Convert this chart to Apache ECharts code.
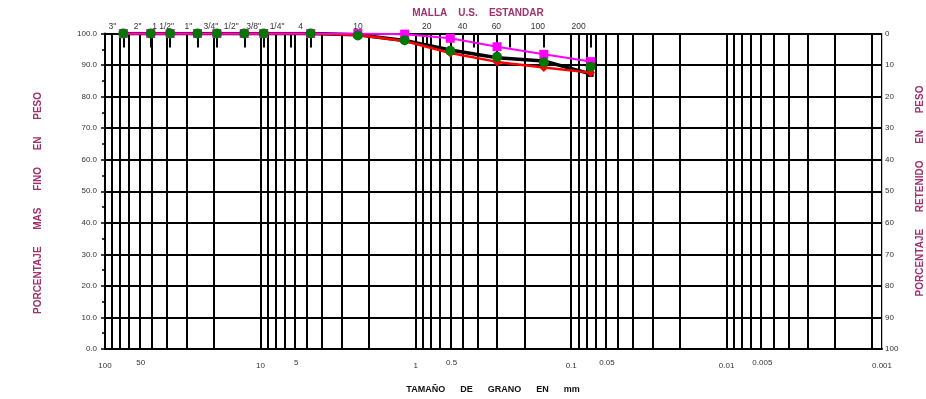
<!DOCTYPE html>
<html><head><meta charset="utf-8">
<script src="https://cdn.jsdelivr.net/npm/echarts@6/dist/echarts.min.js"></script>
<style>html,body{margin:0;padding:0;background:#fff}#c{width:926px;height:399px}</style>
</head><body><div id="c"></div>
<script>
// Sieve openings (mm) of the plotted points
const sieveSizes = [76.2, 50.8, 38.1, 25.4, 19.05, 12.7, 9.525, 4.75, 2.36, 1.18, 0.6, 0.3, 0.15, 0.075];
// Percent passing for each curve
const magentaPct = [100, 100, 100, 100, 100, 100, 100, 100, 100, 99.8, 98.5, 95.8, 93.4, 91.1];
const blackPct   = [100, 100, 100, 100, 100, 100, 100, 100, 99.6, 97.8, 94.8, 92.3, 91.3, 87.2];
const redPct     = [100, 100, 100, 100, 100, 100, 100, 100, 99.5, 97.6, 93.8, 91.0, 89.2, 87.6];
const greenPct   = [100, 100, 100, 100, 100, 100, 100, 100, 99.4, 97.9, 94.5, 92.6, 90.9, 89.5];
// Top (U.S. standard sieve) labels
const topSieveNames = ['3"', '2"', '1 1/2"', '1"', '3/4"', '1/2"', '3/8"', '1/4"', '4', '10', '20', '40', '60', '100', '200'];
const topSieveSizes = [76.2, 50.8, 38.1, 25.4, 19.05, 12.7, 9.525, 6.35, 4.75, 2.0, 0.85, 0.425, 0.25, 0.15, 0.075];
// Bottom grain size labels
const bottomLabels = [100, 50, 10, 5, 1, 0.5, 0.1, 0.05, 0.01, 0.005, 0.001];

// ---- styling helpers (not data) ----
const topLabelShift = [11, 13, 7, 9, 6, 13, 10, 14, 10, 11, 0, 11, 13, 6, 12];
const gridValues = [];
for (let e = -3; e <= 1; e++) for (let k = 1; k <= 9; k++) gridValues.push(k * Math.pow(10, e));
gridValues.push(100, 0.00116);

const fmtNum = v => String(parseFloat(Number(v).toPrecision(4)));
const purple = '#a0306e';
const font = 'Liberation Sans, Arial, sans-serif';

const topRich = {};
topLabelShift.forEach((s, i) => { topRich['s' + i] = {padding: [0, 2 * s, 0, 0], fontSize: 8.5, color: '#333', fontFamily: font}; });

function closestIdx(arr, v) {
  let best = 0, bd = Infinity;
  arr.forEach((a, i) => { const d = Math.abs(Math.log(a) - Math.log(v)); if (d < bd) { bd = d; best = i; } });
  return best;
}

const pairs = vals => sieveSizes.map((s, i) => [s, vals[i]]);

const chart = echarts.init(document.getElementById('c'), null, {renderer: 'canvas'});
chart.setOption({
  animation: false,
  backgroundColor: '#fff',
  textStyle: {fontFamily: font},
  grid: {left: 105, right: 44, top: 33.5, bottom: 50, containLabel: false},
  xAxis: [{
    type: 'log', logBase: 10, min: 0.001, max: 100, inverse: true, position: 'bottom',
    axisLine: {show: true, onZero: false, lineStyle: {color: '#000', width: 2}},
    axisTick: {show: false, customValues: gridValues},
    splitLine: {show: true, lineStyle: {color: '#000', width: 2}},
    axisLabel: {
      customValues: bottomLabels, showMinLabel: true, showMaxLabel: true, hideOverlap: false,
      margin: 10, fontSize: 8, color: '#333',
      formatter: v => {
        const t = fmtNum(v);
        return t.replace(/0|\./g, '') === '5' ? '{f|' + t + '}' : '{d|' + t + '}';
      },
      rich: {
        d: {padding: [3, 0, 0, 0], fontSize: 8, color: '#333', fontFamily: font},
        f: {padding: [0, 22, 0, 0], fontSize: 8, color: '#333', fontFamily: font}
      }
    }
  }, {
    type: 'log', logBase: 10, min: 0.001, max: 100, inverse: true, position: 'top',
    axisLine: {show: false, onZero: false},
    splitLine: {show: false},
    axisTick: {show: true, inside: true, length: 14, customValues: topSieveSizes, lineStyle: {color: '#000', width: 2}},
    axisLabel: {
      customValues: topSieveSizes, showMinLabel: true, showMaxLabel: true, hideOverlap: false,
      margin: 2, fontSize: 8.5, color: '#333',
      formatter: v => { const i = closestIdx(topSieveSizes, v); return '{s' + i + '|' + topSieveNames[i] + '}'; },
      rich: topRich
    }
  }],
  yAxis: [{
    type: 'value', min: 0, max: 100, interval: 10, position: 'left',
    axisLine: {show: true, onZero: false, lineStyle: {color: '#000', width: 2}},
    axisTick: {show: true, length: 4, lineStyle: {color: '#000', width: 1.5}},
    minorTick: {show: true, splitNumber: 2, length: 3, lineStyle: {color: '#000', width: 1.5}},
    splitLine: {show: true, lineStyle: {color: '#000', width: 2}},
    axisLabel: {margin: 8, fontSize: 8, color: '#333', formatter: v => Number(v).toFixed(1)}
  }, {
    type: 'value', min: 0, max: 100, interval: 10, position: 'right', inverse: true,
    axisLine: {show: true, onZero: false, lineStyle: {color: '#c4c4c4', width: 1}},
    axisTick: {show: false}, splitLine: {show: false},
    axisLabel: {margin: 3, fontSize: 8, color: '#333', padding: [5, 0, 0, 0]}
  }],
  series: [
    {type: 'line', name: 'black', data: pairs(blackPct), symbol: 'rect', symbolSize: 6,
     itemStyle: {color: '#000'}, lineStyle: {color: '#000', width: 3.5}, z: 3},
    {type: 'line', name: 'red', data: pairs(redPct), symbol: 'diamond', symbolSize: 9,
     itemStyle: {color: '#ff0000'}, lineStyle: {color: '#ff0000', width: 2.5}, z: 4},
    {type: 'line', name: 'magenta', data: pairs(magentaPct), symbol: 'rect', symbolSize: 9,
     itemStyle: {color: '#ff00ff'}, lineStyle: {color: '#ff00ff', width: 2}, z: 5},
    {type: 'line', name: 'green', data: pairs(greenPct), symbol: 'circle', symbolSize: 10,
     itemStyle: {color: '#007700'}, lineStyle: {opacity: 0}, z: 6}
  ],
  graphic: [
    {type: 'text', x: 478, y: 13, style: {text: 'MALLA    U.S.    ESTANDAR', fill: purple, font: 'bold 10px ' + font, align: 'center', verticalAlign: 'middle'}},
    {type: 'text', x: 493, y: 390, style: {text: 'TAMAÑO      DE      GRANO      EN      mm', fill: '#111', font: 'bold 9px ' + font, align: 'center', verticalAlign: 'middle'}},
    {type: 'text', x: 38, y: 203, rotation: Math.PI / 2, style: {text: 'PORCENTAJE      MAS      FINO      EN      PESO', fill: purple, font: 'bold 10px ' + font, align: 'center', verticalAlign: 'middle'}},
    {type: 'text', x: 920, y: 191, rotation: Math.PI / 2, style: {text: 'PORCENTAJE      RETENIDO      EN      PESO', fill: purple, font: 'bold 10px ' + font, align: 'center', verticalAlign: 'middle'}}
  ]
});
</script>
</body></html>
